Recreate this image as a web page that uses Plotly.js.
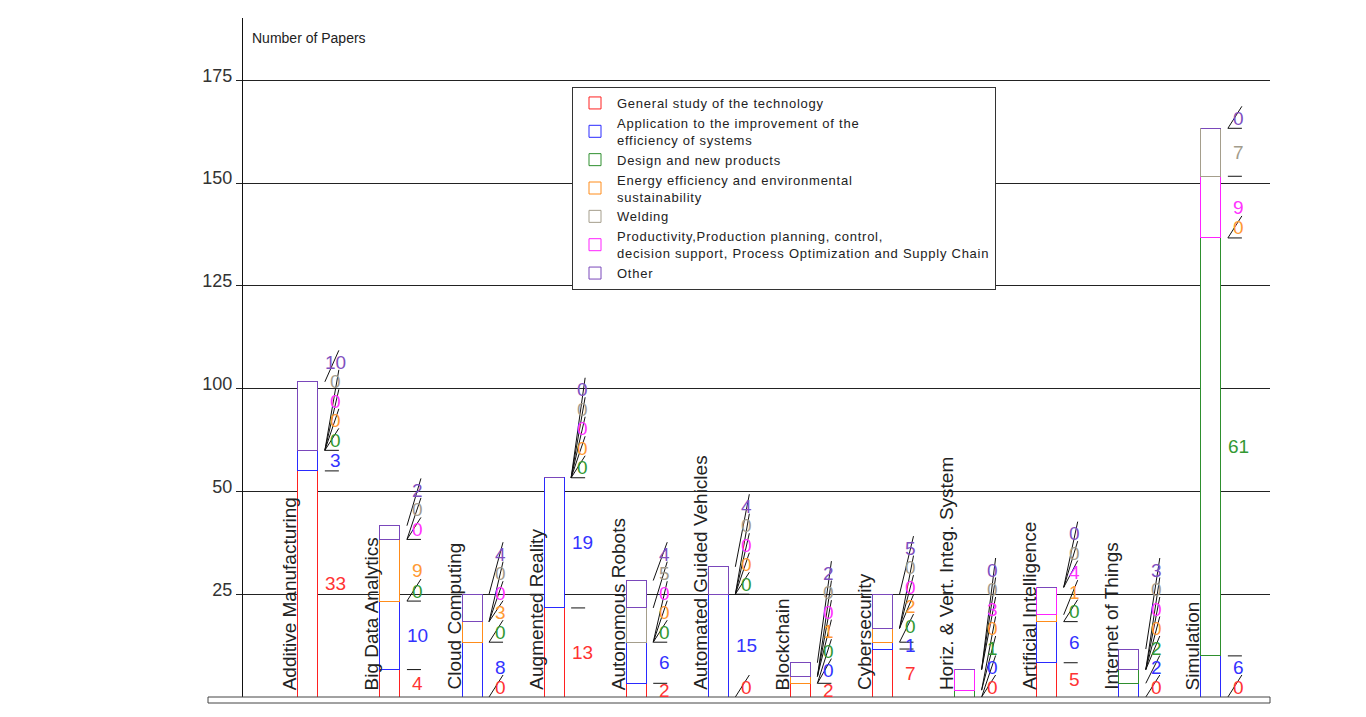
<!DOCTYPE html>
<html><head><meta charset="utf-8">
<script src="https://cdn.plot.ly/plotly-3.0.1.min.js"></script>
<style>html,body{margin:0;padding:0;background:#fff}#chart{width:1366px;height:717px}
text.legendtext{letter-spacing:0.75px}</style>
</head><body><div id="chart"></div>
<script>
const categories = ["Additive Manufacturing","Big Data Analytics","Cloud Computing","Augmented Reality","Autonomous Robots","Automated Guided Vehicles","Blockchain","Cybersecurity","Horiz. & Vert. Integ. System","Artificial Intelligence","Internet of Things","Simulation"];
// series in legend order
const seriesNames = ["General study of the technology","Application to the improvement of the<br>efficiency of systems","Design and new products","Energy efficiency and environmental<br>sustainability","Welding","Productivity,Production planning, control,<br>decision support, Process Optimization and Supply Chain","Other"];
const general      = [33, 4, 0, 13, 2, 0, 2, 7, 0, 5, 0, 0];
const efficiency   = [3, 10, 8, 19, 6, 15, 0, 1, 0, 6, 2, 6];
const design       = [0, 0, 0, 0, 0, 0, 0, 0, 1, 0, 2, 61];
const energy       = [0, 9, 3, 0, 0, 0, 1, 2, 0, 1, 0, 0];
const welding      = [0, 0, 0, 0, 5, 0, 0, 0, 0, 0, 0, 7];
const productivity = [0, 0, 0, 0, 0, 0, 0, 0, 3, 4, 0, 9];
const other        = [10, 2, 4, 0, 4, 4, 2, 5, 0, 0, 3, 0];
const tickValues = [15, 30, 45, 60, 75, 90];
const tickLabels = ["25", "50", "100", "125", "150", "175"];
const yTitle = "Number of Papers";

const series = [general, efficiency, design, energy, welding, productivity, other];
// stacking order bottom->top (indices into series): productivity sits below welding
const stackOrder = [0, 1, 2, 3, 5, 4, 6];
const colors = ['#ff2020', '#2a2aff', '#2e8f2e', '#ff8c1a', '#a59e8c', '#ff22ff', '#7a48bb'];
const textColors = ['#ff3333', '#3333ff', '#339933', '#ff9933', '#a39c8c', '#ff33ff', '#7f50c0'];
const FONT = 'Liberation Sans, Arial, sans-serif';

const W = 1366, H = 717;
const mL = 243, mR = 96, mT = 18, mB = 20;
const plotH = H - mT - mB;
const yMax = 99.1;
const pxU = plotH / yMax;

const traces = stackOrder.map(i => ({
  type: 'bar', name: seriesNames[i], x: categories, y: series[i],
  width: 0.2436, legendrank: i + 1,
  marker: {color: '#ffffff', line: {color: colors[i], width: 1}},
  hoverinfo: 'skip'
}));

const annotations = [];
const shapes = [];
const gap = 19.5 / pxU, lift = 10 / pxU, endOff = 12 / pxU;
categories.forEach((c, j) => {
  let cum = 0, prev = -Infinity;
  stackOrder.forEach(i => {
    const v = series[i][j];
    const bottom = cum, top = cum + v;
    cum = top;
    const natural = v > 0 ? (bottom + top) / 2 : top + lift;
    const ly = Math.max(natural, prev + gap);
    prev = ly;
    annotations.push({
      x: j, xref: 'x', xshift: 28, y: ly, yref: 'y', text: String(v),
      showarrow: false, xanchor: 'center', yanchor: 'middle',
      font: {family: FONT, size: 19, color: textColors[i]}
    });
    const y1 = ly >= top ? ly + endOff : top;
    shapes.push({
      type: 'line', xref: 'x', xsizemode: 'pixel', xanchor: j, x0: 17, x1: 31,
      yref: 'y', y0: top, y1: y1, line: {color: '#111', width: 1}
    });
  });
  annotations.push({
    x: j, xref: 'x', xshift: -18, y: 0, yref: 'y', yshift: 5, text: c,
    textangle: -90, showarrow: false, xanchor: 'center', yanchor: 'bottom',
    font: {family: FONT, size: 19, color: '#222'}
  });
});
annotations.push({
  x: 7 / (W - mL - mR), xref: 'paper', y: (plotH - 20) / plotH, yref: 'paper',
  text: yTitle, showarrow: false, xanchor: 'left', yanchor: 'middle',
  font: {family: FONT, size: 14, color: '#222'}
});
shapes.push({
  type: 'rect', xref: 'paper', yref: 'paper',
  x0: -35 / (W - mL - mR), x1: 1, y0: -6 / plotH, y1: 0,
  line: {color: '#444', width: 1}, fillcolor: 'rgba(0,0,0,0)'
});

const layout = {
  width: W, height: H,
  margin: {l: mL, r: mR, t: mT, b: mB, pad: 0},
  paper_bgcolor: '#fff', plot_bgcolor: '#fff',
  barmode: 'stack',
  font: {family: FONT, color: '#222'},
  showlegend: true,
  legend: {
    x: (572 - mL) / (W - mL - mR), y: (plotH - (87 - mT)) / plotH,
    xanchor: 'left', yanchor: 'top', traceorder: 'normal', itemwidth: 34,
    bgcolor: '#fff', bordercolor: '#333', borderwidth: 1,
    font: {family: FONT, size: 13, color: '#222'}
  },
  xaxis: {
    type: 'category', range: [-0.79, 11.72], showticklabels: false,
    showgrid: false, zeroline: false, showline: false, ticks: ''
  },
  yaxis: {
    range: [0, yMax], tickvals: tickValues, ticktext: tickLabels,
    showgrid: true, gridcolor: '#222', gridwidth: 1,
    zeroline: false, showline: true, linecolor: '#111', linewidth: 1,
    ticks: 'outside', ticklen: 6, tickcolor: '#222',
    tickfont: {family: FONT, size: 18, color: '#333'},
    ticklabelshift: -5
  },
  annotations: annotations,
  shapes: shapes
};

Plotly.newPlot('chart', traces, layout, {staticPlot: true, displayModeBar: false});
</script>
</body></html>
